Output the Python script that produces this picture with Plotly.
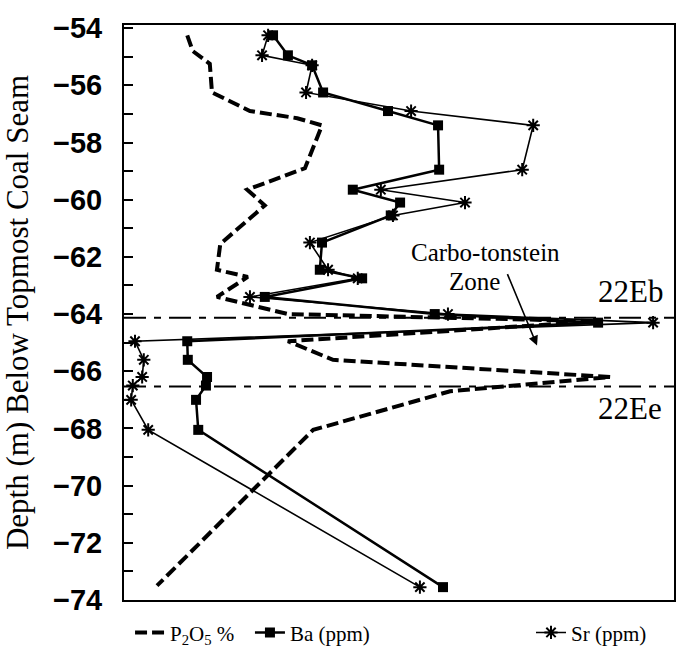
import plotly.graph_objects as go

# Depth (m) below topmost coal seam
depth = [-54.25, -54.95, -55.3, -56.25, -56.9, -57.4, -58.95, -59.65, -60.1, -60.55,
         -61.5, -62.45, -62.75, -63.4, -64.0, -64.3, -64.95, -65.6, -66.2, -66.5,
         -67.0, -68.05, -73.55]

# Relative (unlabelled) horizontal scale, 0-100
ba_val = [27.1, 29.8, 34.2, 36.2, 48.0, 57.1, 57.3, 41.6, 50.2, 48.5,
          36.0, 35.6, 43.3, 25.6, 56.5, 86.2, 11.5, 11.6, 15.1, 14.9,
          13.1, 13.5, 58.0]
sr_val = [26.2, 25.1, 34.2, 33.1, 52.2, 74.4, 72.4, 46.7, 62.0, 48.9,
          33.8, 37.1, 42.5, 22.9, 58.9, 96.2, 2.0, 3.6, 3.3, 1.6,
          1.3, 4.4, 53.8]

p2o5_depth = [-54.25, -54.8, -55.25, -56.25, -56.9, -57.15, -57.4, -58.9, -59.65, -60.2,
              -61.55, -62.45, -62.7, -63.4, -64.0, -64.25, -64.95, -65.6, -66.2, -66.7,
              -68.05, -73.5]
p2o5_val = [11.5, 12.5, 15.6, 16.0, 22.9, 31.5, 36.0, 32.9, 22.4, 25.6,
            17.5, 16.9, 22.5, 16.9, 29.8, 86.5, 29.8, 38.0, 88.4, 59.3,
            34.4, 6.0]

horizon_names = ["22Eb", "22Ee"]
horizon_depth = [-64.13, -66.53]

y_ticks = [-54, -56, -58, -60, -62, -64, -66, -68, -70, -72, -74]

SERIF = "Liberation Serif"

fig = go.Figure()
fig.add_trace(go.Scatter(
    x=p2o5_val, y=p2o5_depth, mode="lines", name="P<sub>2</sub>O<sub>5</sub> %",
    line=dict(color="black", width=4, dash="12px,5px"), legend="legend"))
fig.add_trace(go.Scatter(
    x=ba_val, y=depth, mode="lines+markers", name="Ba (ppm)",
    line=dict(color="black", width=2.5),
    marker=dict(symbol="square", size=10, color="black"), legend="legend2"))
fig.add_trace(go.Scatter(
    x=sr_val, y=depth, mode="lines+markers", name="Sr (ppm)",
    line=dict(color="black", width=1.6),
    marker=dict(symbol="asterisk-open", size=11, color="black",
                line=dict(color="black", width=2)), legend="legend3"))

for d in horizon_depth:
    fig.add_shape(type="line", xref="paper", x0=0, x1=1, yref="y", y0=d, y1=d,
                  line=dict(color="black", width=2, dash="22px,8px,7px,8px"))

fig.add_annotation(x=92, y=-63.2, text=horizon_names[0], showarrow=False,
                   font=dict(family=SERIF, size=31, color="black"))
fig.add_annotation(x=92, y=-67.3, text=horizon_names[1], showarrow=False,
                   font=dict(family=SERIF, size=31, color="black"))
fig.add_annotation(x=65.8, y=-61.85, text="Carbo-tonstein", showarrow=False,
                   font=dict(family=SERIF, size=25, color="black"))
fig.add_annotation(x=63.7, y=-62.85, text="Zone", showarrow=False,
                   font=dict(family=SERIF, size=25, color="black"))
fig.add_annotation(x=75.1, y=-65.1, ax=69.6, ay=-62.55, axref="x", ayref="y",
                   text="", showarrow=True, arrowhead=2, arrowsize=1.2,
                   arrowwidth=1.6, arrowcolor="black", standoff=0)

legend_common = dict(orientation="h", yanchor="middle", y=-0.057, xanchor="left",
                     bgcolor="rgba(0,0,0,0)",
                     font=dict(family=SERIF, size=21, color="black"))

fig.update_layout(
    width=689, height=665,
    margin=dict(l=124, r=15, t=13, b=55),
    plot_bgcolor="white", paper_bgcolor="white",
    showlegend=True,
    legend=dict(x=0.011, **legend_common),
    legend2=dict(x=0.229, **legend_common),
    legend3=dict(x=0.74, **legend_common),
    xaxis=dict(range=[0, 100], showticklabels=False, ticks="", showgrid=False,
               zeroline=False, showline=True, linewidth=2, linecolor="black",
               mirror=True),
    yaxis=dict(range=[-74, -53.89], tickvals=y_ticks, ticks="inside", ticklen=9,
               tickwidth=1.5, tickcolor="black",
               minor=dict(ticks="inside", ticklen=9, tickwidth=1.5, dtick=1,
                          tick0=-54, tickcolor="black", showgrid=False),
               showgrid=False, zeroline=False, showline=True, linewidth=2,
               linecolor="black", mirror=True, ticklabelstandoff=14,
               tickfont=dict(family="Liberation Sans", size=29, color="black",
                             weight="bold"),
               title=dict(text="Depth (m) Below Topmost Coal Seam", standoff=15,
                          font=dict(family=SERIF, size=31, color="black"))),
)

fig.write_html("out.html")
